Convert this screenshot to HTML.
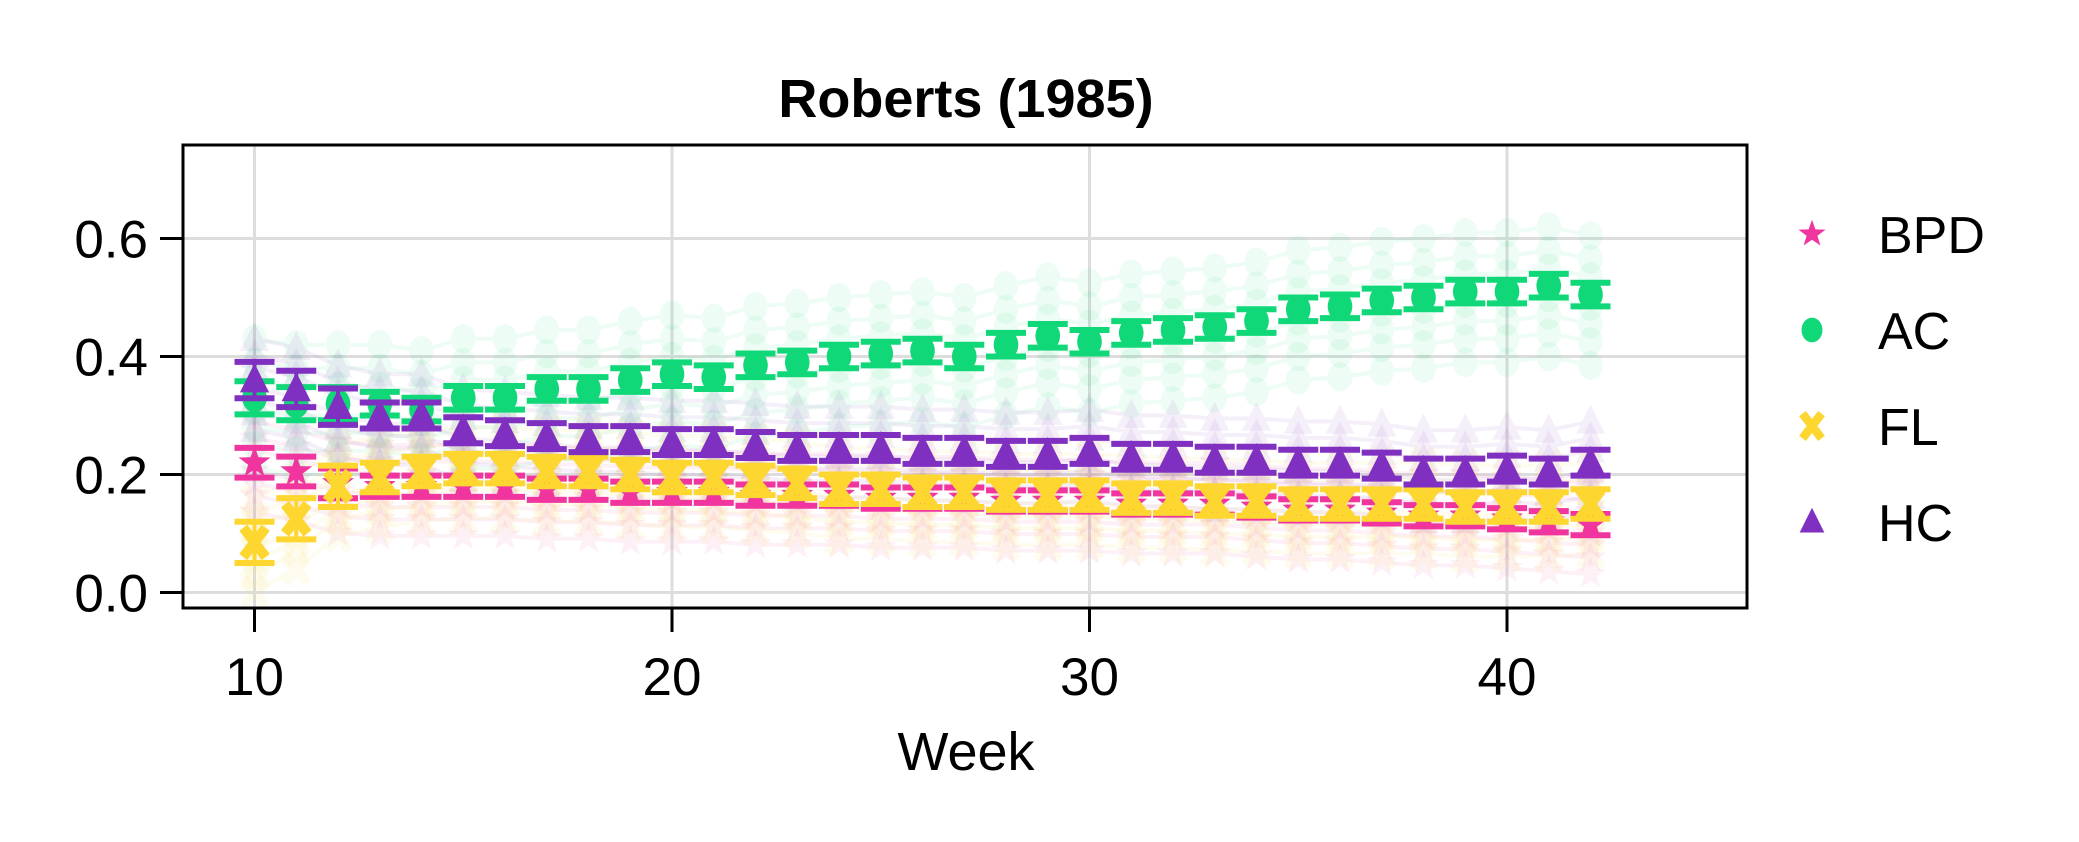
<!DOCTYPE html>
<html><head><meta charset="utf-8"><style>
html,body{margin:0;padding:0;background:#fff;}
svg{display:block;font-family:"Liberation Sans",sans-serif;}
</style></head><body>
<svg id="chart" width="2079" height="842" viewBox="0 0 2079 842">
<rect width="2079" height="842" fill="#fff"/>
<g id="grid"></g>
<g id="faint"></g>
<g id="series"></g>
<rect x="183" y="145" width="1564" height="463" fill="none" stroke="#000" stroke-width="3"/>
<g id="axes"></g>
<text x="966" y="117" text-anchor="middle" font-weight="bold" font-size="54">Roberts (1985)</text>
<text x="966" y="770" text-anchor="middle" font-size="54">Week</text>
<g id="legend"></g>
</svg>
<script>
const weeks=[10,11,12,13,14,15,16,17,18,19,20,21,22,23,24,25,26,27,28,29,30,31,32,33,34,35,36,37,38,39,40,41,42];
const bpd=[0.22,0.205,0.185,0.18,0.18,0.18,0.18,0.175,0.175,0.17,0.17,0.17,0.165,0.165,0.165,0.16,0.16,0.16,0.155,0.155,0.155,0.15,0.15,0.15,0.145,0.14,0.14,0.135,0.13,0.13,0.125,0.12,0.115];
const ac=[0.33,0.32,0.32,0.32,0.31,0.33,0.33,0.345,0.345,0.36,0.37,0.365,0.385,0.39,0.40,0.405,0.41,0.40,0.42,0.435,0.425,0.44,0.445,0.45,0.46,0.48,0.485,0.495,0.50,0.51,0.51,0.52,0.505];
const fl=[0.085,0.125,0.18,0.195,0.205,0.21,0.21,0.205,0.205,0.20,0.195,0.195,0.19,0.185,0.175,0.175,0.17,0.17,0.165,0.165,0.165,0.16,0.16,0.155,0.155,0.15,0.15,0.15,0.15,0.145,0.145,0.145,0.15];
const hc=[0.36,0.345,0.315,0.30,0.30,0.275,0.27,0.265,0.26,0.26,0.255,0.255,0.25,0.245,0.245,0.245,0.24,0.24,0.235,0.235,0.24,0.23,0.23,0.225,0.225,0.22,0.22,0.215,0.205,0.205,0.21,0.205,0.22];
const errBpd=0.018, errAc=0.02, errFl=0.025, errHc=0.022;
const xTicks=[10,20,30,40];
const yTicks=[0.0,0.2,0.4,0.6];
const yTickLabels=["0.0","0.2","0.4","0.6"];
const faintOffsets=[-0.12,-0.08,-0.05,-0.02,0.03,0.06,0.1];

const NS="http://www.w3.org/2000/svg";
function X(w){return 254.5+(w-10)*41.75;}
function Y(v){return 592.5-v*590;}
function el(tag,attrs,parent){const e=document.createElementNS(NS,tag);for(const k in attrs)e.setAttribute(k,attrs[k]);parent.appendChild(e);return e;}
const grid=document.getElementById('grid'),axes=document.getElementById('axes'),faint=document.getElementById('faint'),series=document.getElementById('series'),legend=document.getElementById('legend');
xTicks.forEach(t=>{
  const g=el('line',{x1:X(t),x2:X(t),y1:145,y2:608,stroke:'#ddd','stroke-width':3},grid);
  
  
  const tk=el('line',{x1:X(t),x2:X(t),y1:608,y2:632,stroke:'#000','stroke-width':3},axes);
  
  
  const tx=el('text',{x:X(t),y:695,'text-anchor':'middle','font-size':53},axes);
  tx.textContent=t;
  
  
});
yTicks.forEach((t,i)=>{
  const g=el('line',{x1:183,x2:1747,y1:Y(t),y2:Y(t),stroke:'#ddd','stroke-width':3},grid);
  
  
  const tk=el('line',{x1:160,x2:183,y1:Y(t),y2:Y(t),stroke:'#000','stroke-width':3},axes);
  
  
  const tx=el('text',{x:148,y:Y(t)+19,'text-anchor':'end','font-size':53},axes);
  tx.textContent=yTickLabels[i];
  
  
});
function marker(type,x,y,color,parent,s){
  s=s||1.12;let m;
  if(type==='circle'){m=el('ellipse',{cx:x,cy:y,rx:11*s,ry:13*s,fill:color},parent);}
  else if(type==='tri'){m=el('polygon',{points:`${x},${y-15*s} ${x-13*s},${y+11*s} ${x+13*s},${y+11*s}`,fill:color},parent);}
  else if(type==='star'){let p=[];for(let i=0;i<10;i++){const r=(i%2?6:15)*s,a=-Math.PI/2+i*Math.PI/5;p.push((x+r*Math.cos(a)).toFixed(1)+','+(y+r*Math.sin(a)).toFixed(1));}m=el('polygon',{points:p.join(' '),fill:color},parent);}
  else {m=el('path',{d:`M${x-10*s},${y-13*s}L${x+10*s},${y+13*s}M${x+10*s},${y-13*s}L${x-10*s},${y+13*s}`,stroke:color,'stroke-width':9*s,fill:'none'},parent);}
  return m;
}
const defs=[
 {name:'bpd',data:bpd,err:errBpd,color:'#f0359f',type:'star',label:'BPD'},
 {name:'ac',data:ac,err:errAc,color:'#10d878',type:'circle',label:'AC'},
 {name:'fl',data:fl,err:errFl,color:'#fdd630',type:'x',label:'FL'},
 {name:'hc',data:hc,err:errHc,color:'#8030c0',type:'tri',label:'HC'}
];
defs.forEach(d=>{
  faintOffsets.forEach(o=>{
    const g=el('g',{opacity:0.07},faint);
    
    
    const pts=weeks.map((w,i)=>X(w)+','+Y(d.data[i]+o*(d.name==='ac'?1:0.7))).join(' ');
    el('polyline',{points:pts,fill:'none',stroke:d.color,'stroke-width':4},g);
    weeks.forEach((w,i)=>marker(d.type,X(w),Y(d.data[i]+o*(d.name==='ac'?1:0.7)),d.color,g));
  });
});
defs.forEach(d=>{
  const g=el('g',{},series);
  
  
  weeks.forEach((w,i)=>{
    const x=X(w),v=d.data[i],e=d.err*(i<3?1.4:1);
    el('line',{x1:x,x2:x,y1:Y(v-e),y2:Y(v+e),stroke:d.color,'stroke-width':4},g);
    el('line',{x1:x-20,x2:x+20,y1:Y(v-e),y2:Y(v-e),stroke:d.color,'stroke-width':6},g);
    el('line',{x1:x-20,x2:x+20,y1:Y(v+e),y2:Y(v+e),stroke:d.color,'stroke-width':6},g);
    const m=marker(d.type,x,Y(v),d.color,g);
    
    
  });
});
defs.forEach((d,i)=>{
  const y=234+i*96;
  const g=el('g',{},legend);
  
  
  marker(d.type,1812,y,d.color,g,0.95);
  const t=el('text',{x:1878,y:y+19,'font-size':52},g);
  t.textContent=d.label;
});
</script>
</body></html>
